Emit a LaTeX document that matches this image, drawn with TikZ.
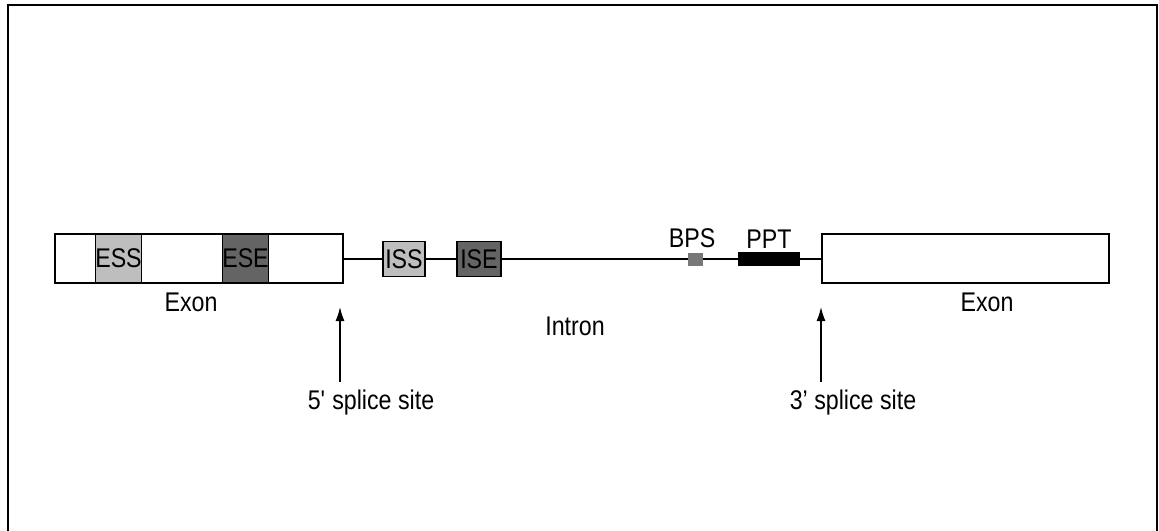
\documentclass[tikz,border=0pt]{standalone}
\usepackage{fontspec}
\setmainfont{Liberation Sans}[FakeStretch=0.86]
\usepackage{tikz}
\usetikzlibrary{arrows.meta,positioning}

\definecolor{lightbox}{RGB}{190,190,190}
\definecolor{darkbox}{RGB}{100,100,100}
\definecolor{bpsgray}{RGB}{120,120,120}

\begin{document}
\begin{tikzpicture}[
x=1pt, y=-1pt,
exonbox/.style={draw, line width=1.5pt, minimum width=288pt, minimum height=49pt, inner sep=0pt},
elem/.style={draw, line width=1.5pt, minimum height=#1, inner sep=0pt, font=\fontsize{27}{27}\selectfont},
lbl/.style={inner sep=0pt, font=\fontsize{27}{27}\selectfont},
strand/.style={line width=1.5pt},
site/.style={-{Latex[length=14pt,width=9pt]}, line width=1.4pt}
]
\useasboundingbox (0,0) rectangle (1159,530);
\draw[line width=2pt] (8,540) -- (8,5) -- (1157,5) -- (1157,540);

% exons
\node[exonbox] (exonA) at (199,258.5) {};
\node[exonbox, minimum width=287pt] (exonB) at (965.5,258.5) {};
\node[elem=49pt, minimum width=43pt, fill=lightbox] (ess) at (118.5,258.5) {ESS};
\node[elem=49pt, minimum width=45pt, fill=darkbox] (ese) at (245.5,258.5) {ESE};

% intron elements
\node[elem=35pt, minimum width=42pt, fill=lightbox] (iss) at (404,259) {ISS};
\node[elem=35pt, minimum width=44pt, fill=darkbox] (ise) at (479,259) {ISE};
\node[fill=bpsgray, minimum width=15pt, minimum height=13pt, inner sep=0pt] (bps) at (695.5,259) {};
\node[fill=black, minimum width=62pt, minimum height=14pt, inner sep=0pt] (ppt) at (769,259) {};

\draw[strand] (exonA.east |- iss) -- (iss.west);
\draw[strand] (iss.east) -- (ise.west);
\draw[strand] (ise.east) -- (bps.west);
\draw[strand] (bps.east) -- (ppt.west);
\draw[strand] (ppt.east) -- (exonB.west |- ppt);

% labels
\node[lbl] (bpslbl) at (692,238) {BPS};
\node[lbl] (pptlbl) at (769,239) {PPT};
\node[lbl] (exonAlbl) at (191,302) {Exon};
\node[lbl] (exonBlbl) at (987,302) {Exon};
\node[lbl] (intronlbl) at (575,326) {Intron};

% splice sites
\node[lbl] (fivelbl) at (371,403) {5\textquotesingle\ splice site};
\node[lbl] (threelbl) at (853,403) {3' splice site};
\coordinate (fivebot) at (340,382);
\coordinate (fivetop) at (340,307);
\coordinate (threebot) at (821,382);
\coordinate (threetop) at (821,307);
\draw[site] (fivebot) -- (fivetop);
\draw[site] (threebot) -- (threetop);
\end{tikzpicture}
\end{document}
